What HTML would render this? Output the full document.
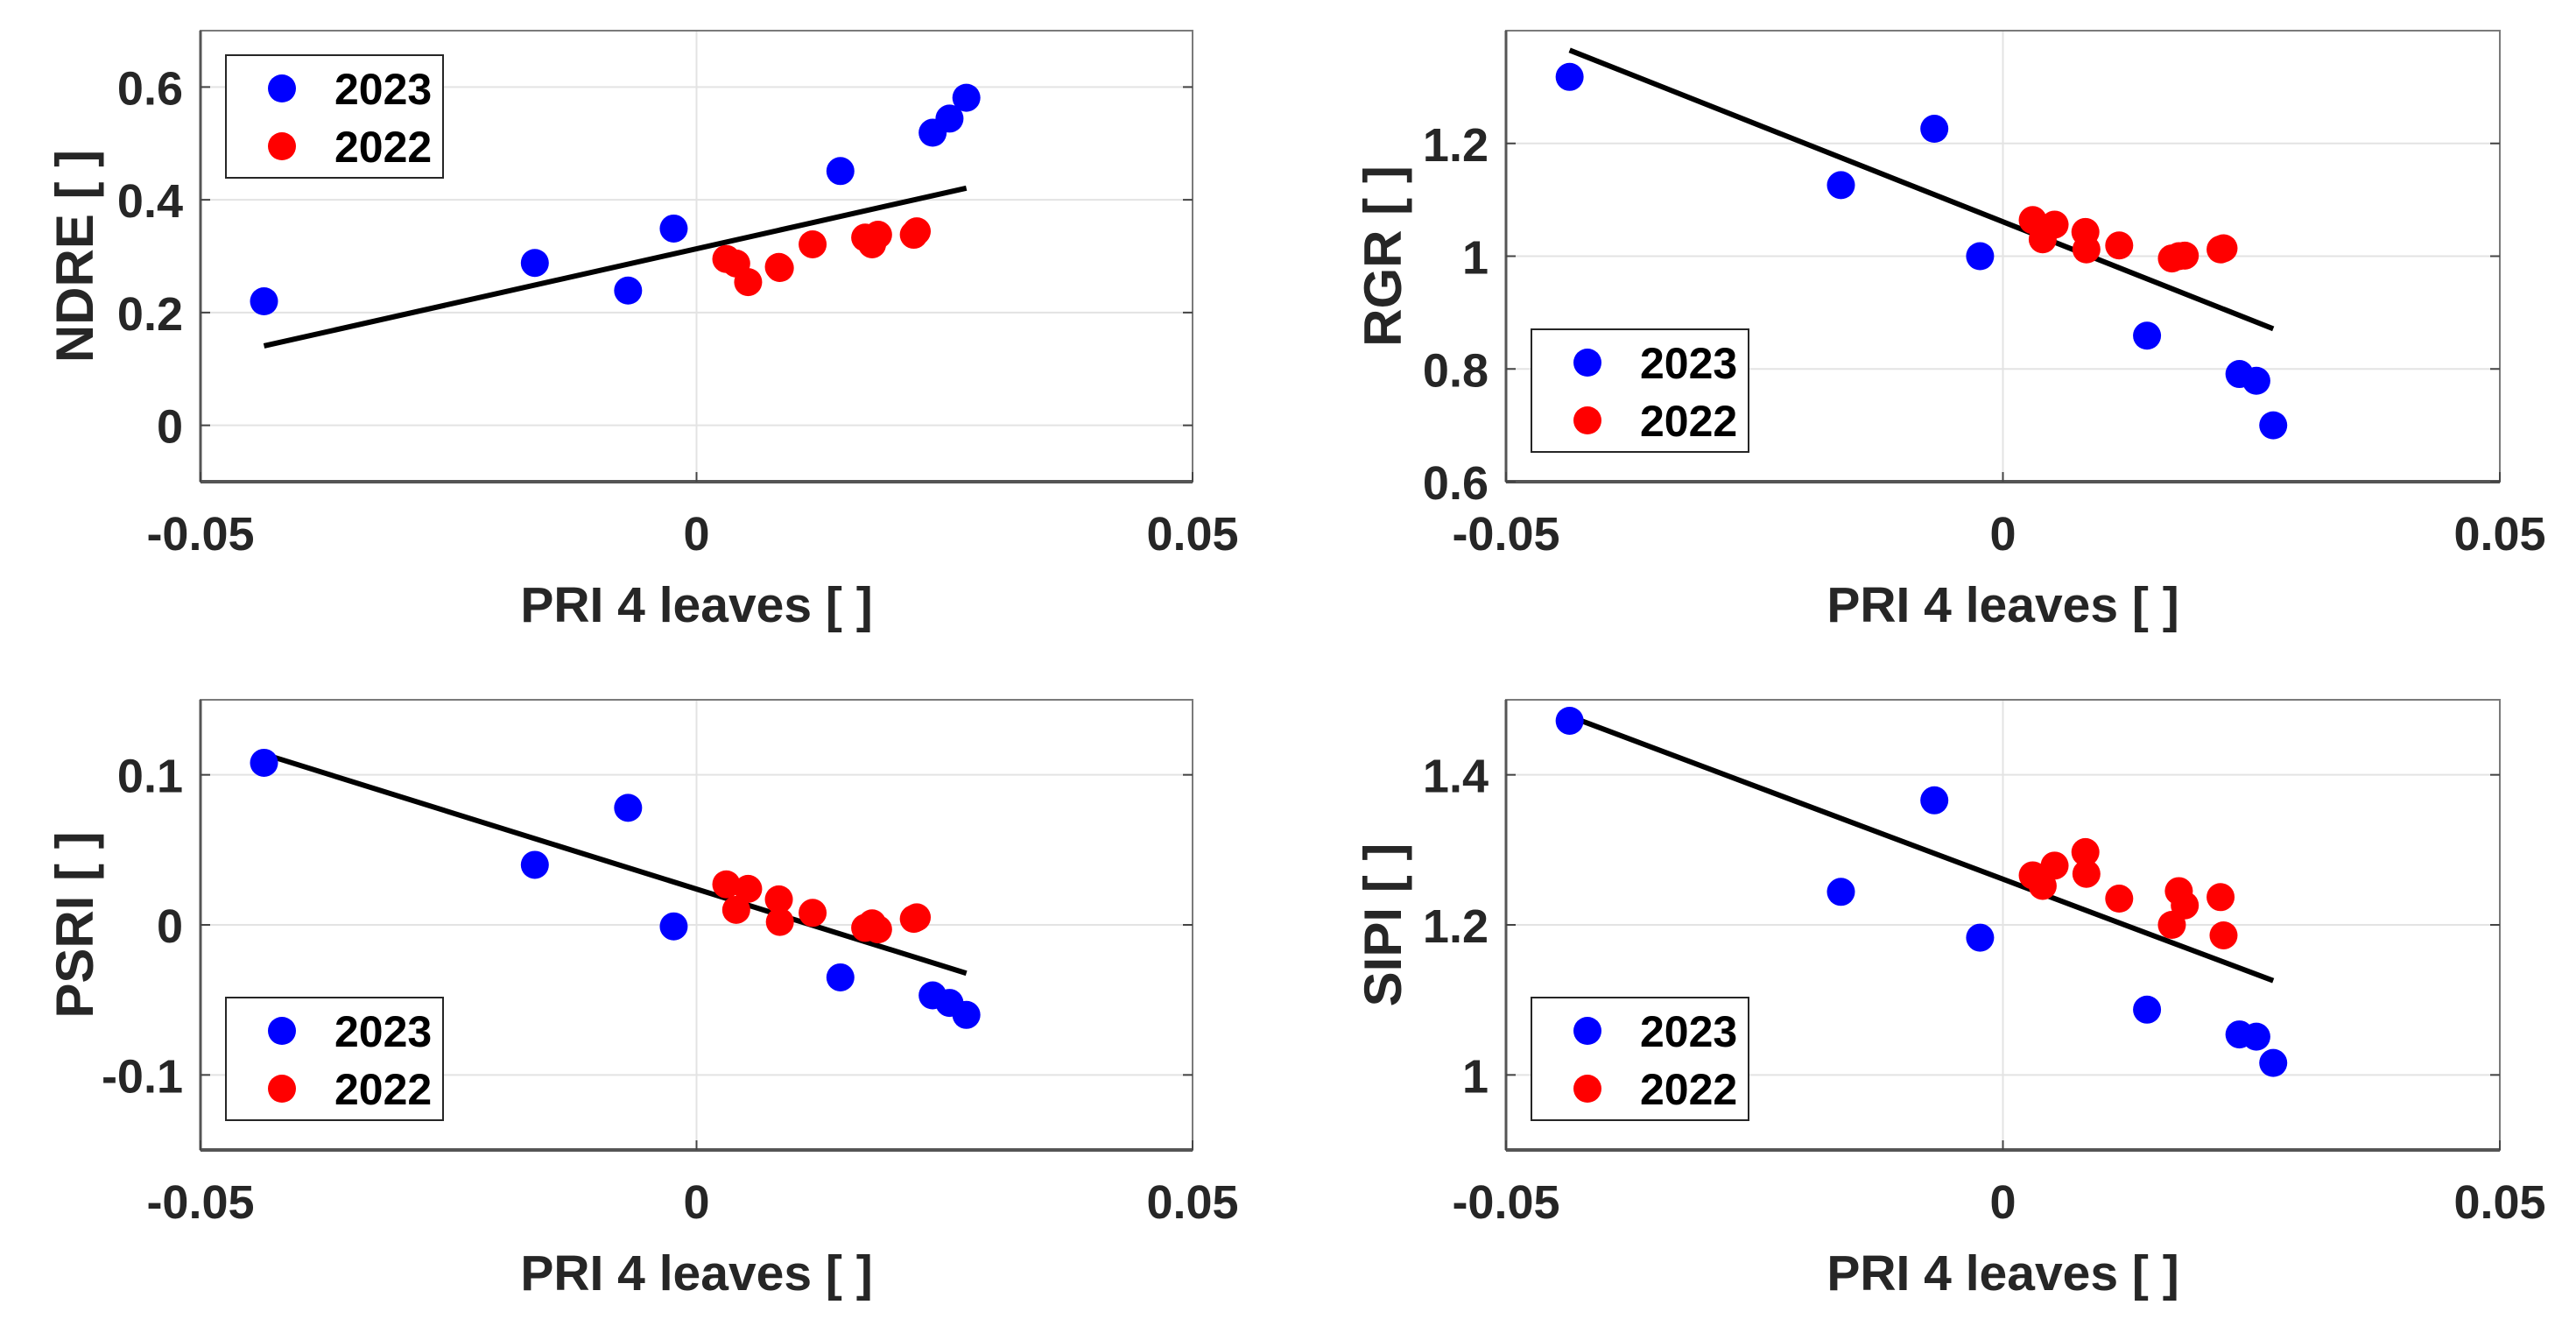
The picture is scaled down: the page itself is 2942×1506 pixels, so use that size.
<!DOCTYPE html>
<html><head><meta charset="utf-8"><style>
html,body{margin:0;padding:0;background:#fff;}
svg{display:block;font-family:"Liberation Sans",Arial,sans-serif;font-weight:bold;}
</style></head><body>
<svg id="fig" width="2942" height="1506" viewBox="0 0 2942 1506" xmlns="http://www.w3.org/2000/svg"></svg>
<script>
const pri2023 = [-0.0436, -0.0163, -0.0069, -0.0023, 0.0145, 0.0238, 0.0255, 0.0272];
const pri2022 = [0.0030, 0.0040, 0.0052, 0.0083, 0.0084, 0.0117, 0.0170, 0.0177, 0.0183, 0.0219, 0.0222];
const ndre2023 = [0.220, 0.288, 0.239, 0.349, 0.451, 0.519, 0.544, 0.581];
const ndre2022 = [0.295, 0.287, 0.254, 0.281, 0.279, 0.321, 0.333, 0.321, 0.338, 0.338, 0.344];
const rgr2023 = [1.318, 1.126, 1.226, 1.000, 0.859, 0.791, 0.779, 0.700];
const rgr2022 = [1.064, 1.030, 1.056, 1.043, 1.012, 1.019, 0.996, 1.000, 1.001, 1.012, 1.014];
const psri2023 = [0.108, 0.040, 0.078, -0.001, -0.035, -0.047, -0.052, -0.060];
const psri2022 = [0.027, 0.010, 0.024, 0.017, 0.002, 0.008, -0.002, 0.001, -0.003, 0.004, 0.005];
const sipi2023 = [1.472, 1.244, 1.366, 1.183, 1.087, 1.054, 1.051, 1.016];
const sipi2022 = [1.266, 1.252, 1.279, 1.297, 1.268, 1.235, 1.200, 1.245, 1.226, 1.237, 1.186];
const xTicks = [-0.05, 0, 0.05];
const xTickLabels = ["-0.05", "0", "0.05"];
const ndreTicks = [0, 0.2, 0.4, 0.6];
const ndreTickLabels = ["0", "0.2", "0.4", "0.6"];
const rgrTicks = [0.6, 0.8, 1, 1.2];
const rgrTickLabels = ["0.6", "0.8", "1", "1.2"];
const psriTicks = [-0.1, 0, 0.1];
const psriTickLabels = ["-0.1", "0", "0.1"];
const sipiTicks = [1, 1.2, 1.4];
const sipiTickLabels = ["1", "1.2", "1.4"];

const NS = "http://www.w3.org/2000/svg";
const svg = document.getElementById('fig');
function mk(tag, attrs, parent) {
  const e = document.createElementNS(NS, tag);
  for (const k in attrs) e.setAttribute(k, attrs[k]);
  (parent || svg).appendChild(e);
  return e;
}

const panels = [
  {key:'ndre', label:'NDRE [ ]', y23:ndre2023, y22:ndre2022, ticks:ndreTicks, tl:ndreTickLabels, ymin:-0.1, ymax:0.7, L:229, R:1362, T:35, B:550, labX:106, legend:'top'},
  {key:'rgr', label:'RGR [ ]', y23:rgr2023, y22:rgr2022, ticks:rgrTicks, tl:rgrTickLabels, ymin:0.6, ymax:1.4, L:1720, R:2855, T:35, B:550, labX:1600, legend:'bottom'},
  {key:'psri', label:'PSRI [ ]', y23:psri2023, y22:psri2022, ticks:psriTicks, tl:psriTickLabels, ymin:-0.15, ymax:0.15, L:229, R:1362, T:799, B:1313, labX:106, legend:'bottom'},
  {key:'sipi', label:'SIPI [ ]', y23:sipi2023, y22:sipi2022, ticks:sipiTicks, tl:sipiTickLabels, ymin:0.9, ymax:1.5, L:1720, R:2855, T:799, B:1313, labX:1600, legend:'bottom'}
];

panels.forEach(p => {
  const g = mk('g', {});
  
  
  const sx = v => p.L + (v + 0.05) / 0.1 * (p.R - p.L);
  const sy = v => p.B - (v - p.ymin) / (p.ymax - p.ymin) * (p.B - p.T);
  mk('rect', {x:p.L, y:p.T, width:p.R-p.L, height:p.B-p.T, fill:'#fff'}, g);
  xTicks.forEach(t => {
    const l = mk('line', {x1:sx(t), x2:sx(t), y1:p.T, y2:p.B, stroke:'#e3e3e3', 'stroke-width':2}, g);
    
    
  });
  p.ticks.forEach(t => {
    const l = mk('line', {x1:p.L, x2:p.R, y1:sy(t), y2:sy(t), stroke:'#e3e3e3', 'stroke-width':2}, g);
    
    
  });
  const box = mk('rect', {x:p.L, y:p.T, width:p.R-p.L, height:p.B-p.T, fill:'none', stroke:'#7a7a7a', 'stroke-width':2}, g);
  
  
  mk('line', {x1:p.L, x2:p.R, y1:p.B, y2:p.B, stroke:'#555', 'stroke-width':4}, g);
  mk('line', {x1:p.L, x2:p.L, y1:p.T, y2:p.B, stroke:'#555', 'stroke-width':3}, g);
  xTicks.forEach((t, i) => {
    mk('line', {x1:sx(t), x2:sx(t), y1:p.B, y2:p.B-11, stroke:'#444', 'stroke-width':2}, g);
    const tx = mk('text', {x:sx(t), y:p.B+78, 'font-size':54, 'text-anchor':'middle', fill:'#262626'}, g);
    tx.textContent = xTickLabels[i];
    
    
  });
  p.ticks.forEach((t, i) => {
    mk('line', {x1:p.L, x2:p.L+11, y1:sy(t), y2:sy(t), stroke:'#444', 'stroke-width':2}, g);
    mk('line', {x1:p.R, x2:p.R-11, y1:sy(t), y2:sy(t), stroke:'#444', 'stroke-width':2}, g);
    const tx = mk('text', {x:p.L-20, y:sy(t)+20, 'font-size':54, 'text-anchor':'end', fill:'#262626'}, g);
    tx.textContent = p.tl[i];
    
    
  });
  const xt = mk('text', {x:(p.L+p.R)/2, y:p.B+160, 'font-size':57, 'text-anchor':'middle', fill:'#262626'}, g);
  xt.textContent = 'PRI 4 leaves [ ]';
  
  
  const cy = (p.T + p.B) / 2;
  const yt = mk('text', {x:p.labX, y:cy, 'font-size':60, 'text-anchor':'middle', fill:'#262626', transform:`rotate(-90 ${p.labX} ${cy})`}, g);
  yt.textContent = p.label;
  
  
  const xs = pri2023.concat(pri2022), ys = p.y23.concat(p.y22);
  const n = xs.length;
  const mx = xs.reduce((a,b)=>a+b,0)/n, my = ys.reduce((a,b)=>a+b,0)/n;
  let sxy = 0, sxx = 0;
  for (let i = 0; i < n; i++) { sxy += (xs[i]-mx)*(ys[i]-my); sxx += (xs[i]-mx)**2; }
  const slope = sxy/sxx, icpt = my - slope*mx;
  const x0 = Math.min(...xs), x1 = Math.max(...xs);
  const fit = mk('line', {x1:sx(x0), y1:sy(icpt+slope*x0), x2:sx(x1), y2:sy(icpt+slope*x1), stroke:'#000', 'stroke-width':6}, g);
  
  
  pri2023.forEach((x, i) => {
    const c = mk('circle', {cx:sx(x), cy:sy(p.y23[i]), r:16, fill:'#0000ff'}, g);
    
    
  });
  pri2022.forEach((x, i) => {
    const c = mk('circle', {cx:sx(x), cy:sy(p.y22[i]), r:16, fill:'#ff0000'}, g);
    
    
  });
  const lx = p.L + 29;
  const ly = p.legend === 'top' ? p.T + 28 : p.B - 34 - 140;
  const lg = mk('g', {}, g);
  
  
  mk('rect', {x:lx, y:ly, width:248, height:140, fill:'#fff', stroke:'#262626', 'stroke-width':2}, lg);
  [['2023','#0000ff',38],['2022','#ff0000',104]].forEach(e => {
    const en = mk('g', {}, lg);
    
    
    mk('circle', {cx:lx+64, cy:ly+e[2], r:16, fill:e[1]}, en);
    const t = mk('text', {x:lx+124, y:ly+e[2]+18, 'font-size':50, fill:'#000'}, en);
    t.textContent = e[0];
  });
});
</script>
</body></html>
